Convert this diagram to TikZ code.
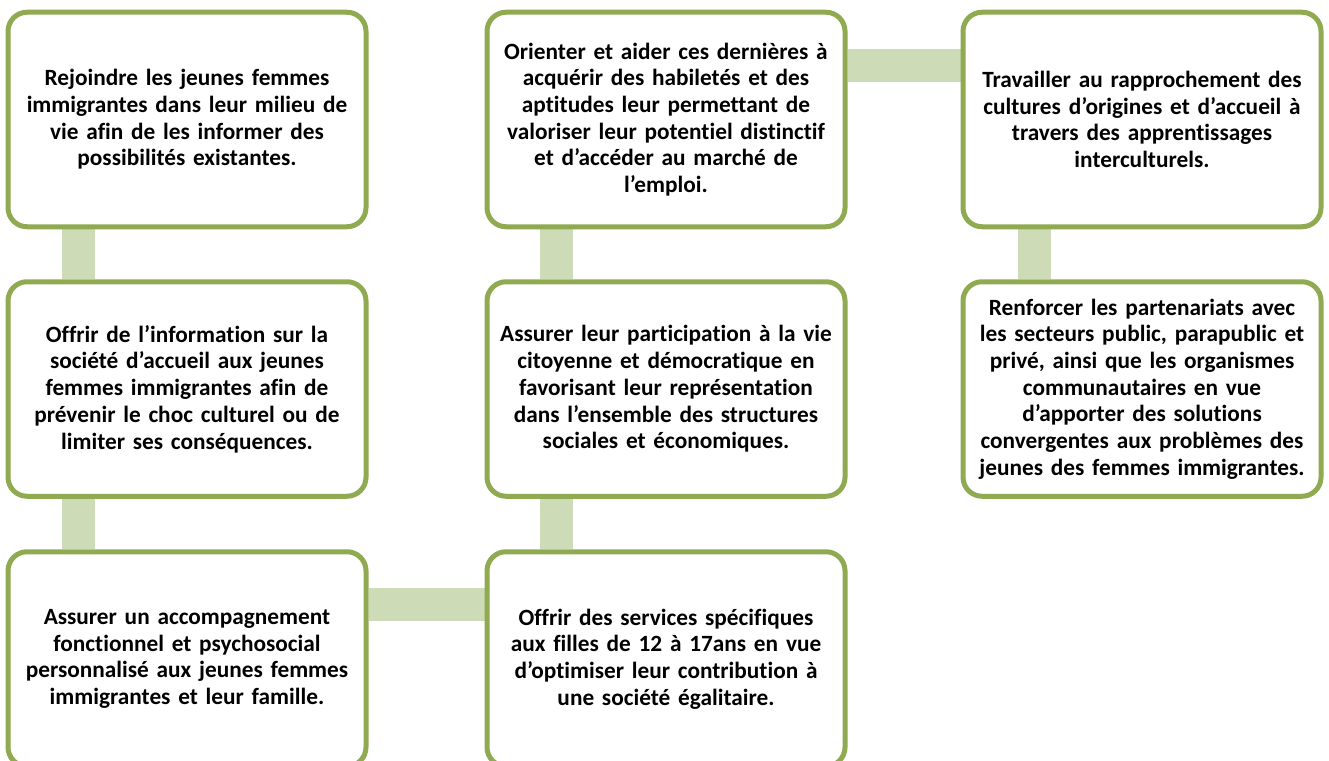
\documentclass[tikz,border=0pt]{standalone}
\usepackage{fontspec}
\setmainfont[Ligatures=NoCommon]{Carlito}
\usetikzlibrary{calc,backgrounds}
\definecolor{boxgreen}{RGB}{143,170,80}
\definecolor{linkgreen}{RGB}{205,219,183}
\tikzset{
  goalbox/.style={draw=boxgreen, line width=5pt, fill=white, rounded corners=19pt,
    minimum width=358pt, minimum height=214.5pt, text width=354pt, align=center,
    inner sep=0pt, font=\fontsize{23.3}{26.7}\selectfont\bfseries},
  link/.style={draw=linkgreen, line width=33pt}
}
\begin{document}
\begin{tikzpicture}[x=1pt,y=-1pt]
\useasboundingbox (0,0) rectangle (1329,760);
\clip (0,0) rectangle (1329,760);
\node[goalbox] (b1) at (187,119.5) {Rejoindre les jeunes femmes\\immigrantes dans leur milieu de\\vie afin de les informer des\\possibilités existantes.};
\node[goalbox] (b2) at (187,389) {Offrir de l’information sur la\\société d’accueil aux jeunes\\femmes immigrantes afin de\\prévenir le choc culturel ou de\\limiter ses conséquences.};
\node[goalbox] (b3) at (187,659) {Assurer un accompagnement\\fonctionnel et psychosocial\\personnalisé aux jeunes femmes\\immigrantes et leur famille.};
\node[goalbox] (b4) at (666,119.5) {Orienter et aider ces dernières à\\acquérir des habiletés et des\\aptitudes leur permettant de\\valoriser leur potentiel distinctif\\et d’accéder au marché de\\l’emploi.};
\node[goalbox] (b5) at (666,389) {Assurer leur participation à la vie\\citoyenne et démocratique en\\favorisant leur représentation\\dans l’ensemble des structures\\sociales et économiques.};
\node[goalbox] (b6) at (666,659) {Offrir des services spécifiques\\aux filles de 12 à 17ans en vue\\d’optimiser leur contribution à\\une société égalitaire.};
\node[goalbox] (b7) at (1142,119.5) {Travailler au rapprochement des\\cultures d’origines et d’accueil à\\travers des apprentissages\\interculturels.};
\node[goalbox] (b8) at (1142,389) {Renforcer les partenariats avec\\les secteurs public, parapublic et\\privé, ainsi que les organismes\\communautaires en vue\\d’apporter des solutions\\convergentes aux problèmes des\\jeunes des femmes immigrantes.};
\begin{scope}[on background layer]
\draw[link] ($(b1.south west)+(72.5,0)$) -- ($(b2.north west)+(72.5,0)$);
\draw[link] ($(b2.south west)+(72.5,0)$) -- ($(b3.north west)+(72.5,0)$);
\draw[link] ($(b3.east)+(0,-54.5)$) -- ($(b6.west)+(0,-54.5)$);
\draw[link] ($(b6.north west)+(71.5,0)$) -- ($(b5.south west)+(71.5,0)$);
\draw[link] ($(b5.north west)+(71.5,0)$) -- ($(b4.south west)+(71.5,0)$);
\draw[link] ($(b4.east)+(0,-54)$) -- ($(b7.west)+(0,-54)$);
\draw[link] ($(b7.south west)+(73.5,0)$) -- ($(b8.north west)+(73.5,0)$);
\end{scope}
\end{tikzpicture}
\end{document}
